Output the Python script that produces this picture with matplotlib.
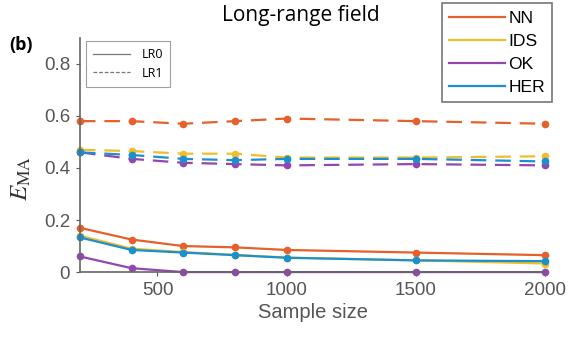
import matplotlib
matplotlib.use('Agg')
import matplotlib.pyplot as plt
from matplotlib.lines import Line2D

plt.rcParams['mathtext.fontset'] = 'stix'

# sample sizes
sizes = [200, 400, 600, 800, 1000, 1500, 2000]

# LR0 (solid)
nn_lr0 = [0.17, 0.125, 0.10, 0.095, 0.085, 0.075, 0.065]
ids_lr0 = [0.14, 0.09, 0.077, 0.066, 0.056, 0.045, 0.033]
ok_lr0 = [0.06, 0.015, 0.0, 0.0, 0.0, 0.0, 0.0]
her_lr0 = [0.133, 0.085, 0.075, 0.065, 0.055, 0.045, 0.042]

# LR1 (dashed)
nn_lr1 = [0.58, 0.58, 0.57, 0.58, 0.59, 0.58, 0.57]
ids_lr1 = [0.47, 0.465, 0.455, 0.455, 0.44, 0.44, 0.445]
ok_lr1 = [0.46, 0.435, 0.42, 0.415, 0.41, 0.415, 0.41]
her_lr1 = [0.46, 0.45, 0.435, 0.43, 0.435, 0.435, 0.425]

methods = ['NN', 'IDS', 'OK', 'HER']
colors = ['#e5602a', '#eebe2c', '#9446b0', '#1a90cf']
lr0 = [nn_lr0, ids_lr0, ok_lr0, her_lr0]
lr1 = [nn_lr1, ids_lr1, ok_lr1, her_lr1]

fig = plt.figure(figsize=(5.75, 3.38), dpi=100)
ax = fig.add_axes([0.139, 0.195, 0.809, 0.693])

for c, ys in zip(colors, lr1):
    ax.plot(sizes, ys, '--', color=c, lw=1.6, marker='o', ms=4.5, dashes=(7, 4), clip_on=False)
for c, ys in zip(colors, lr0):
    ax.plot(sizes, ys, '-', color=c, lw=1.6, marker='o', ms=4.5, clip_on=False)

ax.set_xlim(200, 2000)
ax.set_ylim(0, 0.9)
ax.set_xticks([500, 1000, 1500, 2000])
ax.set_yticks([0, 0.2, 0.4, 0.6, 0.8])
ax.set_yticklabels(['0', '0.2', '0.4', '0.6', '0.8'])
for s in ['top', 'right']:
    ax.spines[s].set_visible(False)
for s in ['left', 'bottom']:
    ax.spines[s].set_color('#666666')
    ax.spines[s].set_linewidth(1.2)
ax.tick_params(colors='#555555', labelsize=13.5, length=3, pad=4)
for lab in ax.get_xticklabels() + ax.get_yticklabels():
    lab.set_family('Liberation Sans')

ax.set_xlabel('Sample size', fontsize=14.5, color='#555555', family='Liberation Sans', labelpad=3)
ax.set_ylabel(r'$E_{\mathrm{MA}}$', fontsize=18, color='#333333')
ax.yaxis.set_label_coords(-0.1, 0.40)

fig.text(0.524, 0.953, 'Long-range field', ha='center', va='center', fontsize=15, family='Open Sans')
fig.text(0.016, 0.868, '(b)', ha='left', va='center', fontsize=13, fontweight='bold', family='Open Sans')

h1 = [Line2D([], [], color=c, lw=1.6) for c in colors]
leg1 = fig.legend(h1, methods, loc='upper right', bbox_to_anchor=(0.96, 0.99),
                  prop={'family': 'Liberation Sans', 'size': 12.6}, frameon=True,
                  fancybox=False, edgecolor='#555555', handlelength=3.2,
                  handletextpad=0.2, labelspacing=0.45, borderpad=0.4, borderaxespad=0)
leg1.get_frame().set_linewidth(1.2)

h2 = [Line2D([], [], color='#777777', lw=0.9, ls='-'),
      Line2D([], [], color='#777777', lw=0.9, ls=(0, (3, 1.5)))]
leg2 = ax.legend(h2, ['LR0', 'LR1'], loc='upper left', bbox_to_anchor=(0.013, 0.985),
                 prop={'family': 'Open Sans', 'size': 9}, frameon=True, fancybox=False,
                 edgecolor='#888888', handlelength=3.0, handletextpad=0.9,
                 labelspacing=0.45, borderpad=0.55, borderaxespad=0)
leg2.get_frame().set_linewidth(0.8)

fig.savefig('out.png', dpi=100)
